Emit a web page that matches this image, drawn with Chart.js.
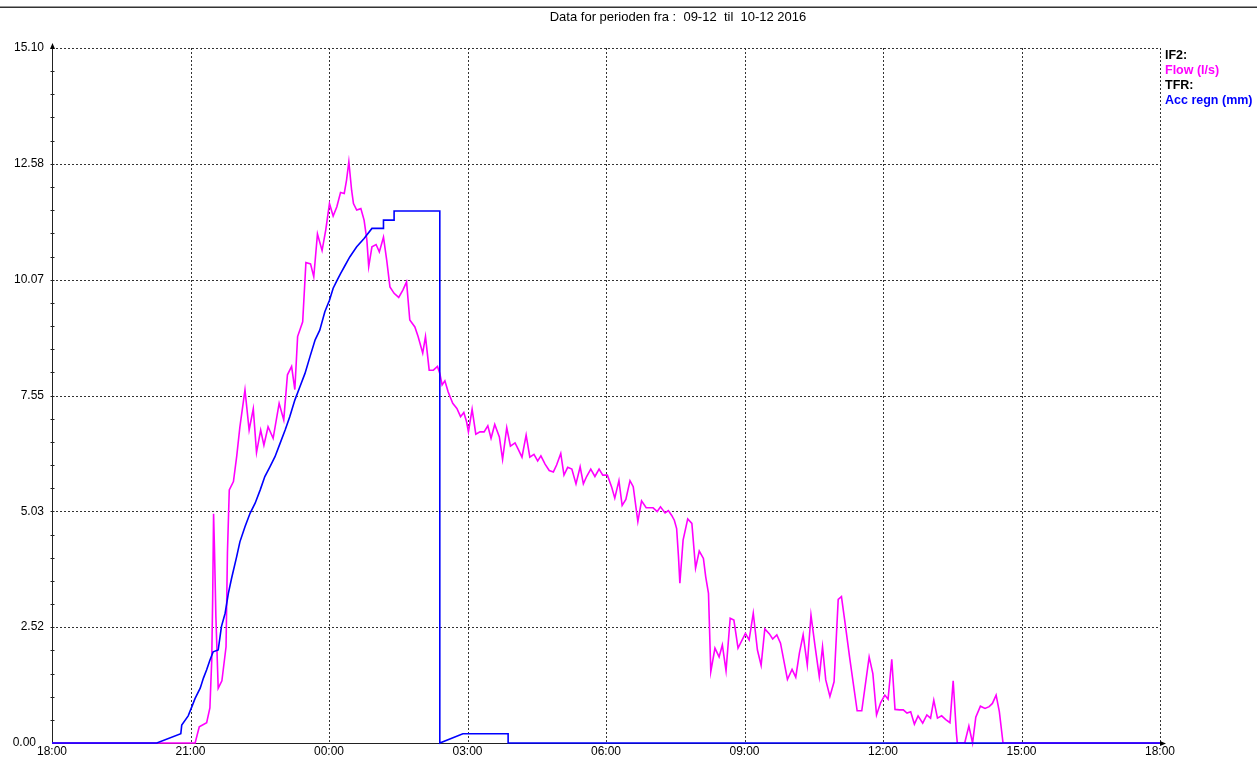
<!DOCTYPE html>
<html>
<head>
  <title>Data for perioden fra 09-12 til 10-12 2016</title>
  <script src="https://cdn.jsdelivr.net/npm/chart.js"></script>
  <style>
    body { margin: 0; background: #fff; }
  </style>
</head>
<body>
  <canvas id="myChart" width="1257" height="760"></canvas>

  <script>
// x = timer efter 09-12 kl. 18:00
const xTickLabels = ['18:00', '21:00', '00:00', '03:00', '06:00', '09:00', '12:00', '15:00', '18:00'];
const yTickLabels = ['0.00', '2.52', '5.03', '7.55', '10.07', '12.58', '15.10'];
const yMax = 15.10;

// IF2: Flow (l/s)
const flowHours = [0, 3.10, 3.19, 3.35, 3.42, 3.46, 3.48, 3.50, 3.52, 3.55, 3.60, 3.68, 3.77, 3.80, 3.84, 3.93,
  4.00, 4.07, 4.18, 4.27, 4.36, 4.43, 4.52, 4.59, 4.68, 4.79, 4.92, 5.02, 5.10, 5.19, 5.26, 5.32, 5.43, 5.50,
  5.60, 5.67, 5.75, 5.85, 5.93, 6.01, 6.09, 6.17, 6.25, 6.33, 6.38, 6.43, 6.49, 6.53, 6.60, 6.69, 6.76, 6.82,
  6.86, 6.93, 7.02, 7.09, 7.18, 7.25, 7.32, 7.41, 7.51, 7.60, 7.68, 7.75, 7.86, 7.93, 8.03, 8.09, 8.17, 8.26,
  8.35, 8.40, 8.45, 8.51, 8.58, 8.68, 8.77, 8.85, 8.92, 8.98, 9.02, 9.10, 9.18, 9.27, 9.36, 9.44, 9.51, 9.59,
  9.69, 9.76, 9.85, 9.93, 10.03, 10.10, 10.18, 10.27, 10.35, 10.44, 10.52, 10.59, 10.68, 10.77, 10.86, 10.93,
  11.02, 11.09, 11.17, 11.26, 11.35, 11.44, 11.51, 11.58, 11.67, 11.76, 11.85, 11.93, 12.03, 12.12, 12.19,
  12.28, 12.35, 12.43, 12.52, 12.59, 12.69, 12.77, 12.87, 13.02, 13.11, 13.18, 13.28, 13.35, 13.42, 13.48,
  13.53, 13.57, 13.60, 13.67, 13.77, 13.86, 13.94, 14.02, 14.11, 14.16, 14.22, 14.27, 14.36, 14.45, 14.52,
  14.60, 14.69, 14.77, 14.86, 15.02, 15.10, 15.19, 15.28, 15.36, 15.44, 15.54, 15.61, 15.70, 15.78, 15.93,
  16.03, 16.11, 16.19, 16.27, 16.36, 16.44, 16.53, 16.62, 16.69, 16.76, 16.85, 16.94, 17.03, 17.10, 17.17,
  17.28, 17.44, 17.54, 17.70, 17.78, 17.86, 17.95, 18.04, 18.11, 18.19, 18.26, 18.36, 18.44, 18.52, 18.60,
  18.68, 18.76, 18.86, 18.95, 19.03, 19.10, 19.18, 19.27, 19.36, 19.45, 19.52, 19.59, 19.61, 19.77, 19.86,
  19.94, 20.01, 20.11, 20.21, 20.30, 20.37, 20.45, 20.52, 20.60, 24];
const flowValues = [0, 0, 0.35, 0.44, 0.76, 1.80, 3.11, 4.98, 4.19, 2.74, 1.19, 1.35, 2.09, 4.13, 5.50, 5.68,
  6.22, 6.87, 7.67, 6.80, 7.26, 6.31, 6.80, 6.47, 6.87, 6.62, 7.38, 7.02, 8.00, 8.18, 7.68, 8.83, 9.15, 10.44,
  10.41, 10.13, 11.06, 10.70, 11.15, 11.72, 11.45, 11.65, 11.96, 11.94, 12.23, 12.63, 12.01, 11.72, 11.58, 11.61, 11.36, 10.93,
  10.35, 10.78, 10.83, 10.67, 10.99, 10.49, 9.91, 9.77, 9.68, 9.84, 10.02, 9.19, 9.04, 8.83, 8.47, 8.83, 8.10, 8.10,
  8.18, 8.03, 7.78, 7.87, 7.63, 7.38, 7.27, 7.09, 7.18, 6.98, 6.76, 7.25, 6.71, 6.76, 6.76, 6.89, 6.62, 6.92,
  6.65, 6.16, 6.85, 6.45, 6.52, 6.38, 6.21, 6.69, 6.21, 6.27, 6.13, 6.24, 6.06, 5.92, 5.89, 6.04,
  6.29, 5.82, 5.99, 5.95, 5.63, 6.00, 5.63, 5.79, 5.95, 5.79, 5.95, 5.82, 5.82, 5.57, 5.32,
  5.70, 5.16, 5.29, 5.70, 5.57, 4.81, 5.26, 5.11, 5.11, 5.03, 5.13, 5.00, 5.05, 4.95, 4.84,
  4.66, 4.05, 3.47, 4.41, 4.87, 4.77, 3.80, 4.17, 4.01, 3.61, 3.25, 1.55, 2.06, 1.87, 2.13,
  1.57, 2.71, 2.67, 2.06, 2.38, 2.24, 2.82, 2.02, 1.69, 2.48, 2.37, 2.26, 2.35, 2.17, 1.38,
  1.60, 1.43, 1.96, 2.35, 1.69, 2.78, 2.09, 1.44, 2.09, 1.37, 1.01, 1.33, 3.12, 3.18, 2.67,
  1.84, 0.70, 0.70, 1.87, 1.51, 0.61, 0.88, 1.04, 0.95, 1.82, 0.73, 0.72, 0.72, 0.65, 0.68,
  0.41, 0.59, 0.43, 0.61, 0.54, 0.93, 0.54, 0.59, 0.51, 0.44, 1.35, 0.21, 0, 0, 0.37,
  0, 0.56, 0.80, 0.75, 0.79, 0.86, 1.04, 0.68, 0, 0];

// TFR: Acc regn (mm)
const accHours = [0, 2.27, 2.79, 2.81, 2.95, 3.03, 3.10, 3.21, 3.28, 3.35, 3.42, 3.49, 3.60, 3.67, 3.75, 3.82,
  3.89, 4.00, 4.07, 4.18, 4.29, 4.40, 4.51, 4.61, 4.72, 4.83, 4.94, 5.05, 5.15, 5.26, 5.37, 5.48, 5.59, 5.70,
  5.80, 5.91, 6.01, 6.09, 6.18, 6.25, 6.35, 6.45, 6.60, 6.76, 6.93, 7.18, 7.18, 7.41, 7.41, 8.40, 8.40, 8.90,
  9.88, 9.88, 24];
const accValues = [0, 0, 0.20, 0.39, 0.59, 0.79, 0.97, 1.19, 1.41, 1.59, 1.80, 1.98, 2.02, 2.53, 2.82, 3.25,
  3.58, 4.05, 4.37, 4.70, 4.99, 5.21, 5.50, 5.79, 6.00, 6.22, 6.51, 6.80, 7.09, 7.45, 7.74, 8.03, 8.40, 8.76,
  8.97, 9.37, 9.62, 9.88, 10.06, 10.20, 10.38, 10.56, 10.78, 10.96, 11.18, 11.18, 11.36, 11.36, 11.56, 11.56, 0, 0.20,
  0.20, 0, 0];

const toPoints = (xs, ys) => xs.map((h, i) => ({ x: h, y: ys[i] }));

function line(ctx, x1, y1, x2, y2) {
  ctx.beginPath();
  ctx.moveTo(x1, y1);
  ctx.lineTo(x2, y2);
  ctx.stroke();
}

// ramme, gitter, akser og tekster
const frame = {
  id: 'frame',
  beforeDatasetsDraw(chart) {
    const { ctx, chartArea: a, scales: { x, y } } = chart;
    ctx.save();

    ctx.fillStyle = '#333';
    ctx.fillRect(0, 6.5, 1257, 1.5);

    ctx.fillStyle = '#000';
    ctx.font = '13px "Liberation Sans", Arial, sans-serif';
    ctx.textAlign = 'center';
    ctx.textBaseline = 'middle';
    ctx.fillText('Data for perioden fra :  09-12  til  10-12 2016', 678, 17);

    // gitter (stiplet)
    ctx.strokeStyle = '#333';
    ctx.lineWidth = 1;
    ctx.setLineDash([2, 2]);
    yTickLabels.forEach((t, i) => {
      if (i === 0) return;
      const py = Math.round(y.getPixelForValue(i * yMax / 6)) + 0.5;
      line(ctx, a.left, py, a.right, py);
    });
    xTickLabels.forEach((t, i) => {
      if (i === 0) return;
      const px = Math.round(x.getPixelForValue(i * 3)) + 0.5;
      line(ctx, px, a.top, px, a.bottom);
    });
    ctx.setLineDash([]);

    // akser
    ctx.strokeStyle = '#222';
    const x0 = Math.round(a.left) + 0.5;
    const y0 = Math.round(a.bottom) + 0.5;
    line(ctx, x0, y0, x0, a.top - 2);
    line(ctx, x0, y0, a.right + 3, y0);
    ctx.fillStyle = '#000';
    ctx.beginPath();
    ctx.moveTo(x0, a.top - 5);
    ctx.lineTo(x0 - 2.5, a.top + 1);
    ctx.lineTo(x0 + 2.5, a.top + 1);
    ctx.fill();
    ctx.beginPath();
    ctx.moveTo(a.right + 6, y0);
    ctx.lineTo(a.right, y0 - 2.5);
    ctx.lineTo(a.right, y0 + 2.5);
    ctx.fill();

    for (let k = 1; k < 30; k++) {
      const py = Math.round(y.getPixelForValue(k * yMax / 30)) + 0.5;
      line(ctx, x0 - 2, py, x0 + 2, py);
    }

    // tal paa akserne
    ctx.fillStyle = '#000';
    ctx.font = '12px "Liberation Sans", Arial, sans-serif';
    ctx.textAlign = 'right';
    yTickLabels.forEach((t, i) => {
      const py = y.getPixelForValue(i * yMax / 6);
      ctx.fillText(t, i === 0 ? 36 : 44, py);
    });
    ctx.textAlign = 'center';
    xTickLabels.forEach((t, i) => {
      ctx.fillText(t, x.getPixelForValue(i * 3), 752);
    });

    // forklaring
    ctx.textAlign = 'left';
    ctx.font = 'bold 12.5px "Liberation Sans", Arial, sans-serif';
    ctx.fillStyle = '#000';
    ctx.fillText('IF2:', 1165, 56);
    ctx.fillStyle = '#ff00ff';
    ctx.fillText('Flow (l/s)', 1165, 71);
    ctx.fillStyle = '#000';
    ctx.fillText('TFR:', 1165, 86);
    ctx.fillStyle = '#0000ff';
    ctx.fillText('Acc regn (mm)', 1165, 101);

    ctx.restore();
  }
};

const myChart = new Chart(document.getElementById('myChart'), {
  type: 'line',
  data: {
    datasets: [
      {
        label: 'Acc regn (mm)',
        data: toPoints(accHours, accValues),
        borderColor: '#0000ff',
        borderWidth: 1.6,
        clip: false,
        order: 0
      },
      {
        label: 'Flow (l/s)',
        data: toPoints(flowHours, flowValues),
        borderColor: '#ff00ff',
        borderWidth: 1.6,
        clip: false,
        order: 1
      }
    ]
  },
  options: {
    responsive: false,
    animation: false,
    layout: { padding: { left: 52, right: 97, top: 48, bottom: 17 } },
    elements: { point: { radius: 0 }, line: { tension: 0 } },
    plugins: { legend: { display: false }, tooltip: { enabled: false } },
    scales: {
      x: { type: 'linear', min: 0, max: 24, display: false },
      y: { min: 0, max: yMax, display: false }
    }
  },
  plugins: [frame]
});
  </script>
</body>
</html>
